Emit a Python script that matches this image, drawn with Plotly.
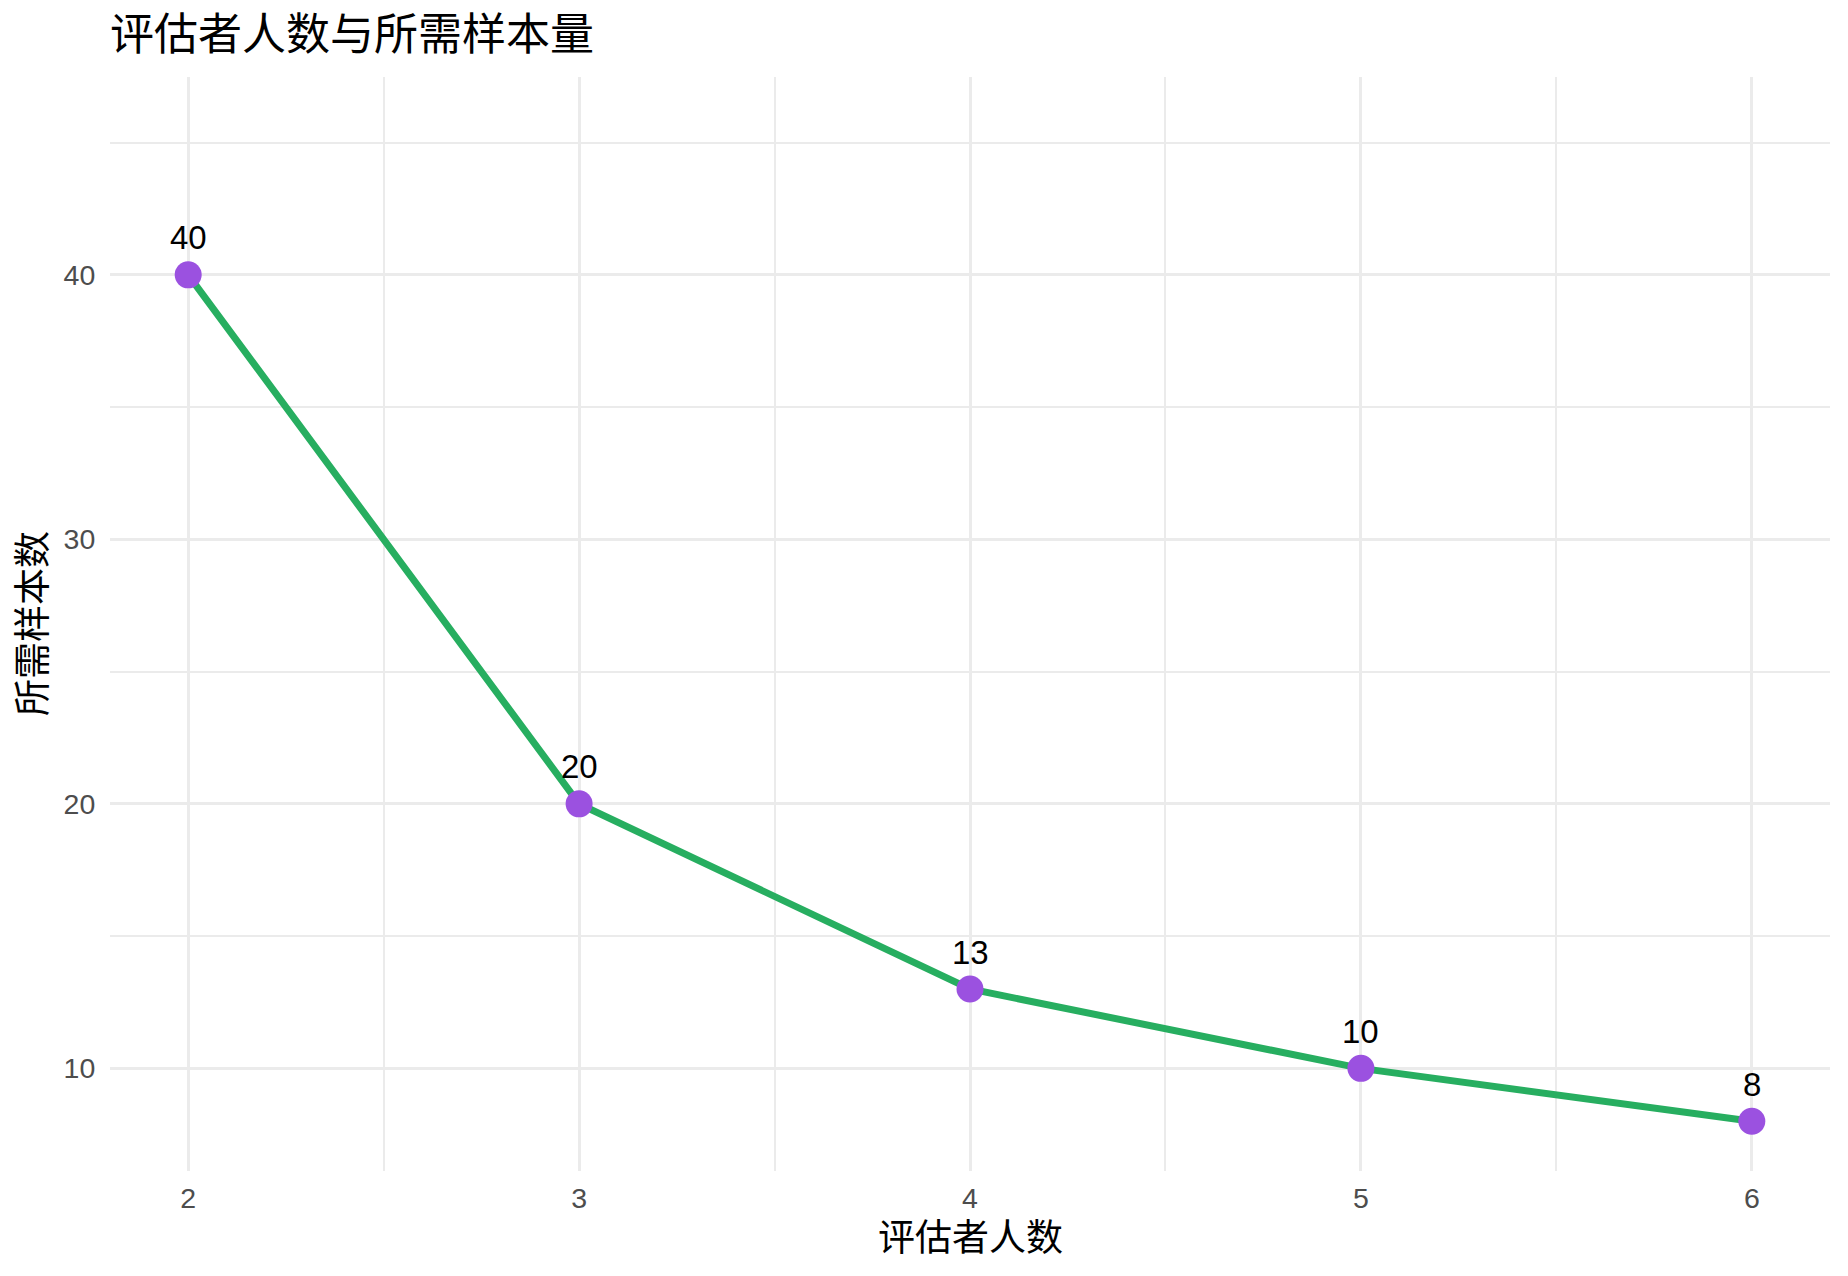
import plotly.graph_objects as go

raters = [2, 3, 4, 5, 6]
samples = [40, 20, 13, 10, 8]
labels = ["40", "20", "13", "10", "8"]

title_text = "评估者人数与所需样本量"
x_title = "评估者人数"
y_title = "所需样本数"

FONT = "Liberation Sans, Noto Sans CJK SC, sans-serif"
GRID = "#EBEBEB"

# the page body has an 8px margin; figure is sized/placed to compensate
W, H = 1832, 1260

fig = go.Figure()
fig.add_trace(go.Scatter(
    x=raters, y=samples, mode="lines",
    line=dict(color="#27AE60", width=7),
    hoverinfo="skip", showlegend=False,
))
fig.add_trace(go.Scatter(
    x=raters, y=samples, mode="markers",
    marker=dict(color="#9B51E0", size=27, line=dict(width=0)),
    showlegend=False,
))

for xv, yv, t in zip(raters, samples, labels):
    fig.add_annotation(
        x=xv, y=yv, text=t, showarrow=False, yshift=37,
        xanchor="center", yanchor="middle",
        font=dict(family=FONT, size=33, color="black"),
    )

fig.add_annotation(
    xref="paper", yref="paper", x=0.5, y=0, yshift=-67,
    text=x_title, showarrow=False, xanchor="center", yanchor="middle",
    font=dict(family=FONT, size=37, color="black"),
)
fig.add_annotation(
    xref="paper", yref="paper", x=0, y=0.5, xshift=-77,
    text=y_title, showarrow=False, xanchor="center", yanchor="middle",
    textangle=-90,
    font=dict(family=FONT, size=37, color="black"),
)

fig.update_layout(
    width=W, height=H,
    margin=dict(l=102, r=10, t=69, b=97, pad=0),
    paper_bgcolor="white", plot_bgcolor="white",
    title=dict(
        text=title_text, x=102 / W, xref="container", xanchor="left",
        y=1 - 27 / H, yref="container", yanchor="middle",
        font=dict(family=FONT, size=44, color="black"),
    ),
    font=dict(family=FONT),
    xaxis=dict(
        range=[1.8, 6.2], tickmode="linear", tick0=2, dtick=1,
        showgrid=True, gridcolor=GRID, gridwidth=3, zeroline=False,
        showline=False, ticks="outside", ticklen=2, tickcolor="rgba(0,0,0,0)",
        tickfont=dict(family=FONT, size=28.5, color="#4D4D4D"),
        minor=dict(dtick=0.5, tick0=2, showgrid=True, gridcolor=GRID, gridwidth=1.5, ticks=""),
    ),
    yaxis=dict(
        range=[6.12, 47.48], tickmode="linear", tick0=10, dtick=10,
        showgrid=True, gridcolor=GRID, gridwidth=3, zeroline=False,
        showline=False, ticks="outside", ticklen=8, tickcolor="rgba(0,0,0,0)",
        tickfont=dict(family=FONT, size=28.5, color="#4D4D4D"),
        minor=dict(dtick=5, tick0=10, showgrid=True, gridcolor=GRID, gridwidth=1.5, ticks=""),
    ),
)

fig.write_html("out.html")
